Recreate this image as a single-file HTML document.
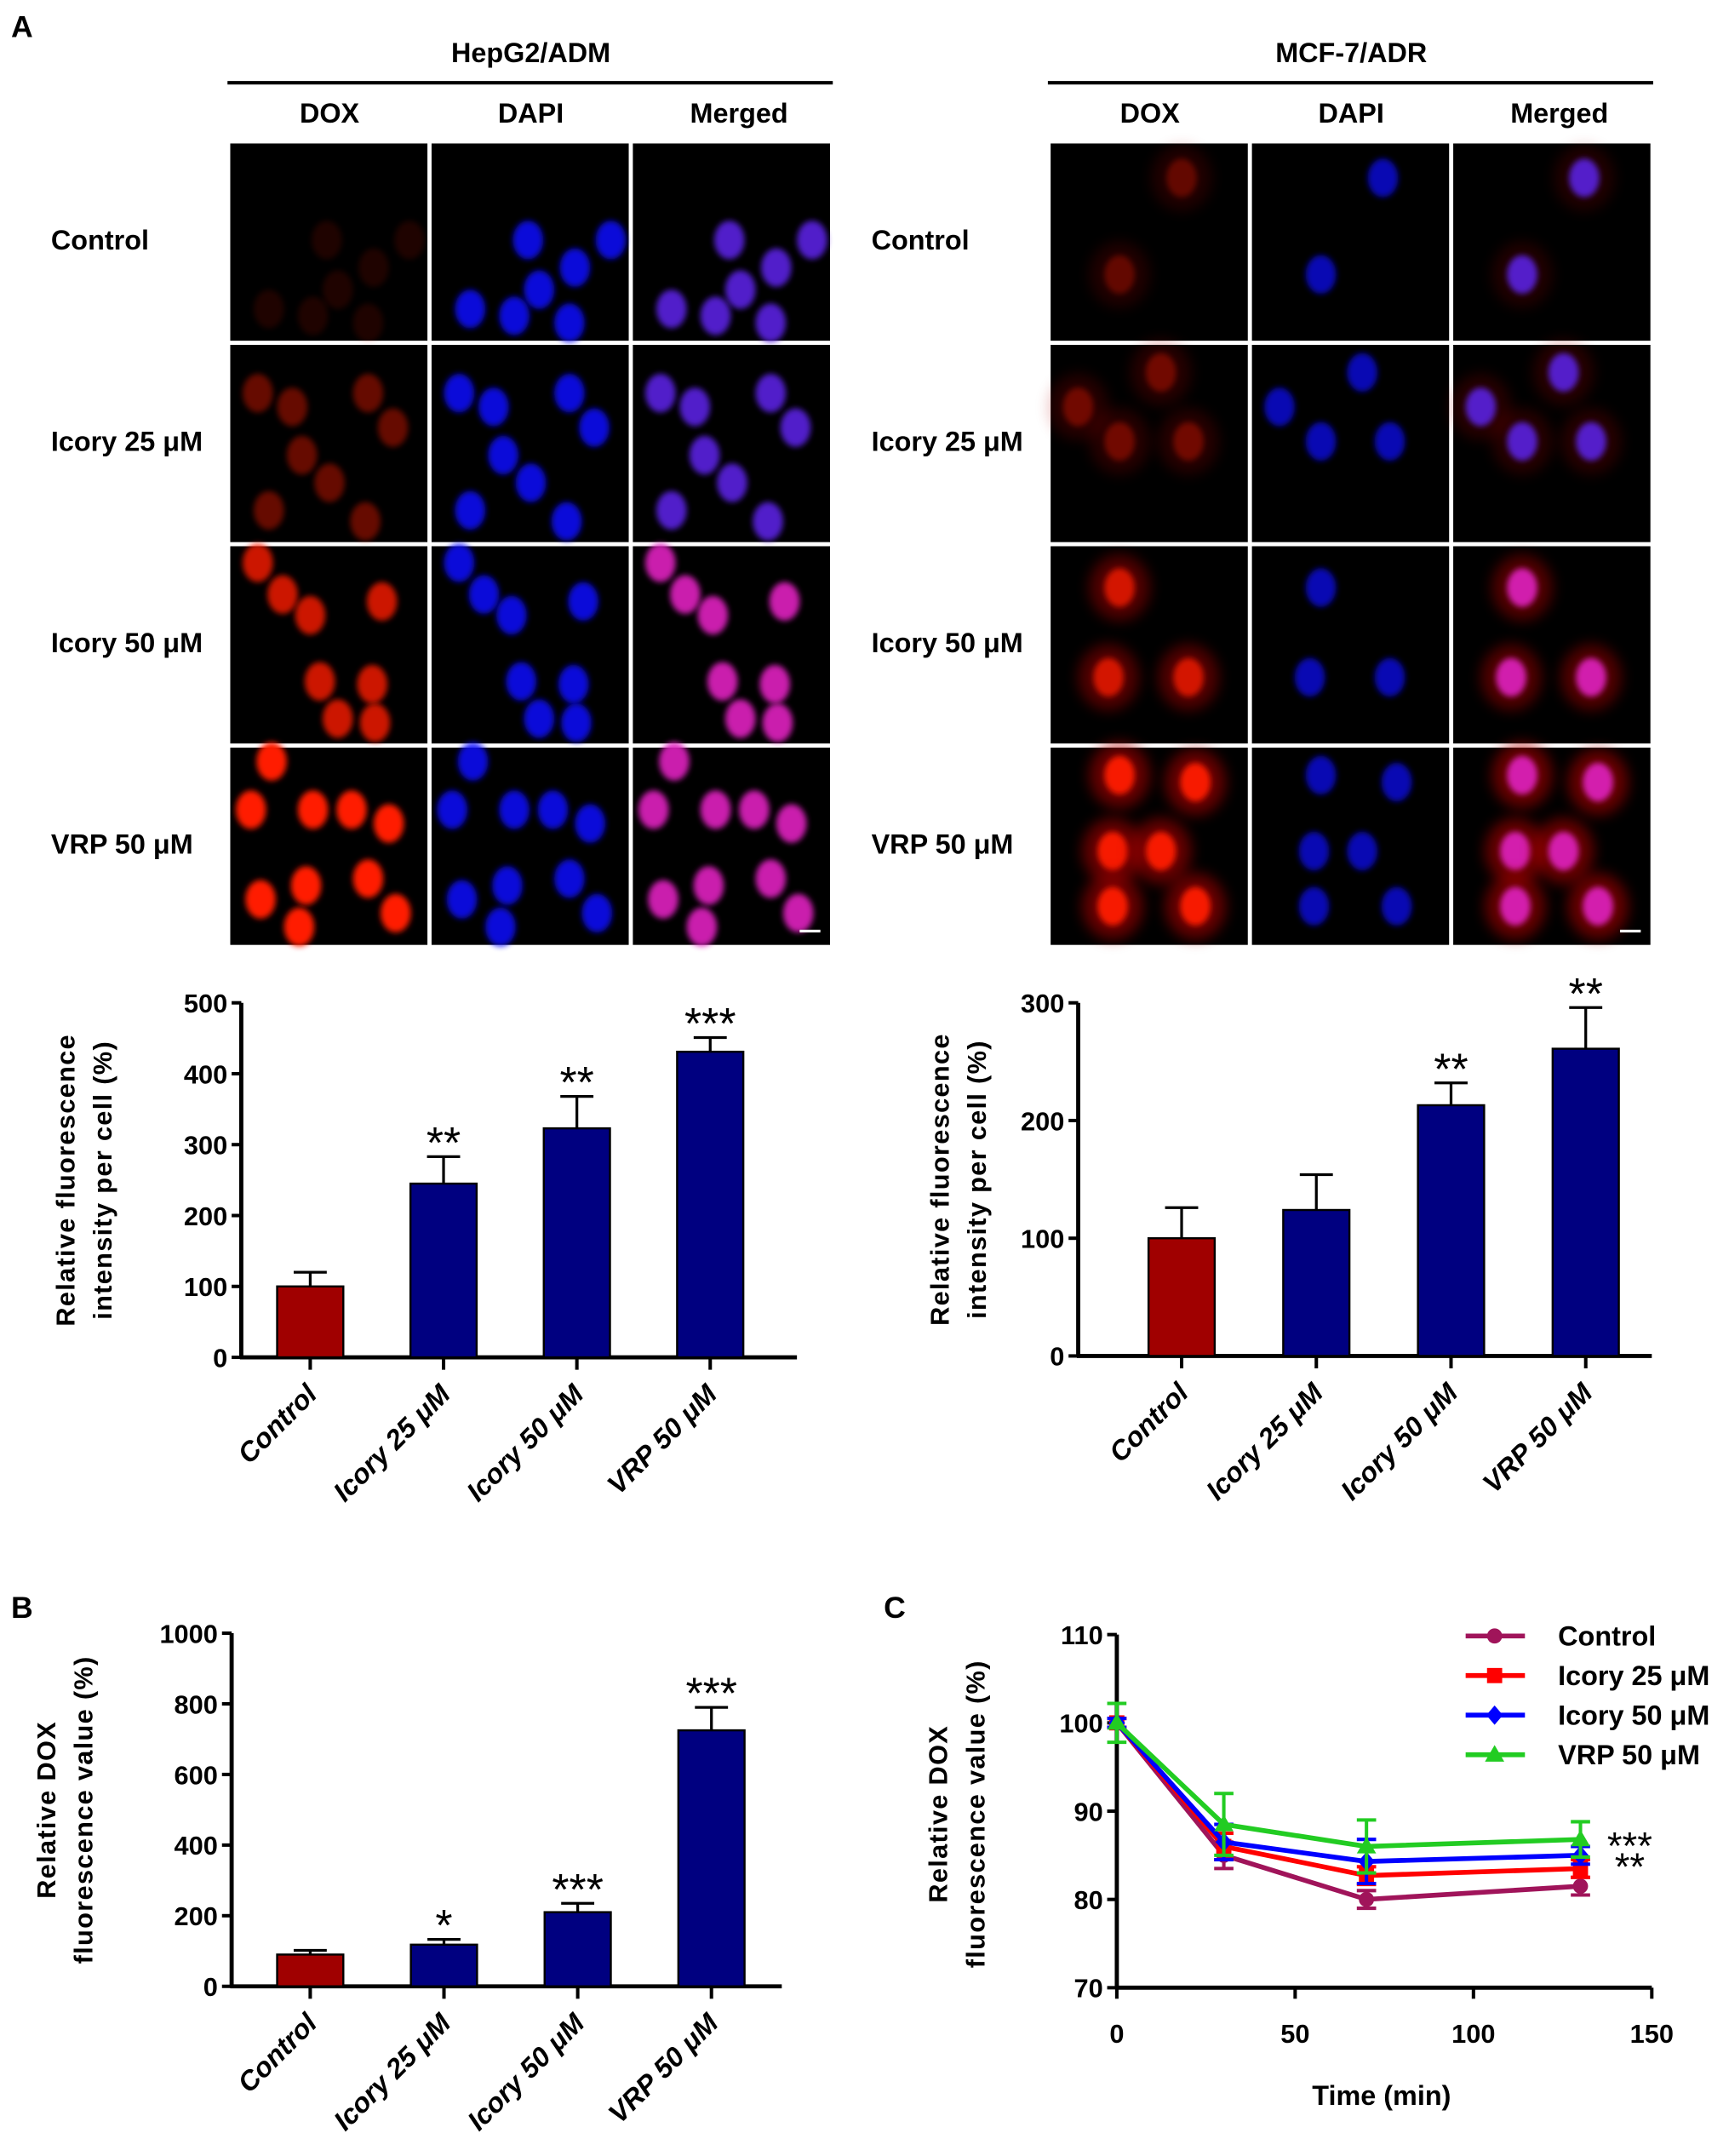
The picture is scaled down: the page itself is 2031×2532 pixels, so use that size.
<!DOCTYPE html>
<html><head><meta charset="utf-8">
<style>
html,body{margin:0;padding:0;background:#fff;}
svg{display:block;font-family:"Liberation Sans",Arial,sans-serif;font-weight:bold;}
</style></head>
<body>
<svg id="fig" width="2031" height="2532" viewBox="0 0 1254 1563" preserveAspectRatio="none" xmlns="http://www.w3.org/2000/svg">
<defs>
<filter id="blur" x="-20%" y="-20%" width="140%" height="140%"><feGaussianBlur stdDeviation="2.2"/></filter>
<filter id="blur2" x="-30%" y="-30%" width="160%" height="160%"><feGaussianBlur stdDeviation="5"/></filter>
</defs>
<rect width="1254" height="1563" fill="#fff"/>
<g id="micro"></g>
<g id="c1"></g>
<g id="c2"></g>
<g id="c3"></g>
<g id="c4"></g>
</svg>
<script>
// ---------- chart data ----------
const barCats = ["Control","Icory 25 μM","Icory 50 μM","VRP 50 μM"];
const hepVals = [100,245,323,431];
const hepErrs = [20,38,45,20];
const hepStars = ["","**","**","***"];
const hepTicks = [0,100,200,300,400,500];
const mcfVals = [100,124,213,261];
const mcfErrs = [26,30,19,35];
const mcfStars = ["","","**","**"];
const mcfTicks = [0,100,200,300];
const bVals = [90,118,210,725];
const bErrs = [12,15,25,65];
const bStars = ["","*","***","***"];
const bTicks = [0,200,400,600,800,1000];
const timePts = [0,30,70,130];
const cSeriesNames = ["Control","Icory 25 μM","Icory 50 μM","VRP 50 μM"];
const cControl = [100,85,80,81.5];
const cIcory25 = [100,86,82.7,83.5];
const cIcory50 = [100,86.5,84.3,85];
const cVrp = [100,88.5,86,86.8];
const cControlErr = [0.5,1.5,1,1];
const cIcory25Err = [0.5,1.5,1,1];
const cIcory50Err = [0.5,2,2.5,1];
const cVrpErr = [2.2,3.5,3,2];
const cXTicks = [0,50,100,150];
const cYTicks = [70,80,90,100,110];

const NS="http://www.w3.org/2000/svg";
function el(parent,tag,attrs,text){const e=document.createElementNS(NS,tag);for(const k in attrs)e.setAttribute(k,attrs[k]);if(text!==undefined)e.textContent=text;parent.appendChild(e);return e;}
const fig=document.getElementById('fig');

let t;
t=el(fig,'text',{x:8,y:27,'font-size':22},'A');


t=el(fig,'text',{x:8,y:1173,'font-size':22},'B');


t=el(fig,'text',{x:641,y:1173,'font-size':22},'C');



const micro=document.getElementById('micro');
const groups=[{name:"HepG2/ADM",x0:167,lab:37},{name:"MCF-7/ADR",x0:762,lab:632}];
const rowsY=[104,250,396,542];
const rowLabels=["Control","Icory 25 μM","Icory 50 μM","VRP 50 μM"];
const nuc=[
 [[[70,70],[28,120],[78,106],[104,90],[130,70],[60,125],[100,130]],
  [[20,35],[45,45],[52,80],[100,35],[118,60],[72,100],[28,120],[98,128]],
  [[20,12],[38,35],[58,50],[65,98],[110,40],[103,100],[105,128],[78,125]],
  [[30,10],[15,45],[60,45],[88,45],[115,55],[22,110],[55,100],[100,95],[120,120],[50,130]]],
 [[[95,25],[50,95]],
  [[80,20],[20,45],[50,70],[100,70]],
  [[50,30],[42,95],[100,95]],
  [[50,20],[105,25],[45,75],[80,75],[45,115],[105,115]]]
];
const redInt=[[0.12,0.4,0.8,1],[0.3,0.35,0.75,0.95]];
groups.forEach((g,gi)=>{
  t=el(micro,'text',{x:g.x0+218,y:45,'font-size':20,'text-anchor':'middle'},g.name);
  
  
  el(micro,'line',{x1:g.x0-2,x2:g.x0+437,y1:60,y2:60,stroke:'#000','stroke-width':2.5});
  ["DOX","DAPI","Merged"].forEach((c,ci)=>{
    t=el(micro,'text',{x:g.x0+72+ci*146+(ci==2?5:0),y:89,'font-size':20,'text-anchor':'middle'},c);
    
    
  });
  rowsY.forEach((ry,ri)=>{
    t=el(micro,'text',{x:g.lab,y:ry+77,'font-size':20},rowLabels[ri]);
    
    
    for(let ci=0;ci<3;ci++){
      const px=g.x0+ci*146;
      el(micro,'rect',{x:px,y:ry,width:143,height:143,fill:'#000'});
      const cg=el(micro,'g',{});
      const ri_=redInt[gi][ri];
      nuc[gi][ri].forEach(p=>{
        const cx=px+p[0],cy=ry+p[1];
        if(cx<px+4||cx>px+139||cy<ry+4||cy>ry+139)return;
        if(ci!==1 && gi===1){el(cg,'ellipse',{cx:cx,cy:cy,rx:22,ry:24,fill:'#b00000',opacity:ri_*0.6,filter:'url(#blur2)'});}
        if(ci===0){el(cg,'ellipse',{cx:cx,cy:cy,rx:11,ry:14,fill:'#ff1a00',opacity:ri_,filter:'url(#blur)'});}
        else if(ci===1){el(cg,'ellipse',{cx:cx,cy:cy,rx:11,ry:14,fill:'#1010ff',opacity:gi==0?0.85:0.7,filter:'url(#blur)'});}
        else{el(cg,'ellipse',{cx:cx,cy:cy,rx:11,ry:14,fill:ri_>0.7?'#e020c0':'#5a20e0',opacity:0.9,filter:'url(#blur)'});}
      });
    }
  });
  el(micro,'rect',{x:g.x0+413,y:674,width:15,height:2,fill:'#fff'});
});

function barChart(gid,o,vals,errs,stars,ticks,titleLines){
  const g=document.getElementById(gid);
  const ys=v=>o.y0-(v-ticks[0])/(ticks[ticks.length-1]-ticks[0])*(o.y0-o.y1);
  el(g,'line',{x1:o.ax,x2:o.ax,y1:o.y1,y2:o.y0+1,stroke:'#000','stroke-width':3});
  el(g,'line',{x1:o.ax-1,x2:o.xEnd,y1:o.y0,y2:o.y0,stroke:'#000','stroke-width':3});
  ticks.forEach(tv=>{
    el(g,'line',{x1:o.ax-7,x2:o.ax,y1:ys(tv),y2:ys(tv),stroke:'#000','stroke-width':2.5});
    const tt=el(g,'text',{x:o.ax-10,y:ys(tv)+7,'font-size':19,'text-anchor':'end'},String(tv));
    
    
  });
  vals.forEach((v,i)=>{
    const cx=o.c0+i*o.step;
    const top=ys(v),etop=ys(v+errs[i]);
    el(g,'line',{x1:cx,x2:cx,y1:top,y2:etop,stroke:'#000','stroke-width':2});
    el(g,'line',{x1:cx-12,x2:cx+12,y1:etop,y2:etop,stroke:'#000','stroke-width':2});
    const b=el(g,'rect',{x:cx-o.bw/2,y:top,width:o.bw,height:o.y0-top,fill:i==0?'#a00000':'#000080',stroke:'#000','stroke-width':1.5});
    
    
    el(g,'line',{x1:cx,x2:cx,y1:o.y0,y2:o.y0+9,stroke:'#000','stroke-width':2.5});
    if(stars[i]){
      const s=el(g,'text',{x:cx,y:etop+1,'font-size':32,'font-weight':'normal','text-anchor':'middle'},stars[i]);
      
      
    }
    const lx=cx+6,ly=o.y0+28;
    const l=el(g,'text',{x:lx,y:ly,'font-size':20,'font-style':'italic','text-anchor':'end',transform:`rotate(-45 ${lx} ${ly})`},barCats[i]);
    
    
  });
  const my=(o.y0+o.y1)/2+o.tOff;
  titleLines.forEach((tl,k)=>{
    const x=o.tx+k*27;
    const tt=el(g,'text',{x:x,y:my,'font-size':19,'text-anchor':'middle','letter-spacing':'0.8',transform:`rotate(-90 ${x} ${my})`},tl);
    
    
  });
}
barChart('c1',{ax:175,y0:984,y1:727,xEnd:578,c0:225,step:96.7,bw:48,tx:54,tOff:0},hepVals,hepErrs,hepStars,hepTicks,["Relative fluorescence","intensity per cell (%)"]);
barChart('c2',{ax:782,y0:983,y1:727,xEnd:1198,c0:857,step:97.7,bw:48,tx:688,tOff:0},mcfVals,mcfErrs,mcfStars,mcfTicks,["Relative fluorescence","intensity per cell (%)"]);
barChart('c3',{ax:168,y0:1440,y1:1184,xEnd:567,c0:225,step:97,bw:48,tx:40,tOff:0},bVals,bErrs,bStars,bTicks,["Relative DOX","fluorescence value (%)"]);

(function(){
  const g=document.getElementById('c4');
  const X0=810,X1=1198,Y0=1441,Y1=1185;
  const xs=v=>X0+(v-cXTicks[0])/(cXTicks[cXTicks.length-1]-cXTicks[0])*(X1-X0);
  const ys=v=>Y0-(v-cYTicks[0])/(cYTicks[cYTicks.length-1]-cYTicks[0])*(Y0-Y1);
  el(g,'line',{x1:X0,x2:X0,y1:Y1,y2:Y0+1,stroke:'#000','stroke-width':3});
  el(g,'line',{x1:X0-1,x2:X1,y1:Y0,y2:Y0,stroke:'#000','stroke-width':3});
  cYTicks.forEach(v=>{
    el(g,'line',{x1:X0-7,x2:X0,y1:ys(v),y2:ys(v),stroke:'#000','stroke-width':2.5});
    const tt=el(g,'text',{x:X0-10,y:ys(v)+7,'font-size':19,'text-anchor':'end'},String(v));
    
    
  });
  cXTicks.forEach(v=>{
    el(g,'line',{x1:xs(v),x2:xs(v),y1:Y0,y2:Y0+8,stroke:'#000','stroke-width':2.5});
    const tt=el(g,'text',{x:xs(v),y:Y0+40,'font-size':19,'text-anchor':'middle'},String(v));
    
    
  });
  let tt=el(g,'text',{x:1002,y:1526,'font-size':20,'text-anchor':'middle'},'Time (min)');
  
  
  const my=1315;
  ["Relative DOX","fluorescence value (%)"].forEach((tl,k)=>{
    const x=687+k*27;
    const a=el(g,'text',{x:x,y:my,'font-size':19,'text-anchor':'middle','letter-spacing':'0.8',transform:`rotate(-90 ${x} ${my})`},tl);
    
    
  });
  const series=[[cControl,cControlErr,'#a0145a','circle'],[cIcory25,cIcory25Err,'#ff0000','square'],[cIcory50,cIcory50Err,'#0000ff','diamond'],[cVrp,cVrpErr,'#22cc22','triangle']];
  function marker(p,x,y,shape,col){
    if(shape=='circle')return el(p,'circle',{cx:x,cy:y,r:5.5,fill:col});
    if(shape=='square')return el(p,'rect',{x:x-5.5,y:y-5.5,width:11,height:11,fill:col});
    if(shape=='diamond')return el(p,'polygon',{points:`${x},${y-7} ${x+6},${y} ${x},${y+7} ${x-6},${y}`,fill:col});
    return el(p,'polygon',{points:`${x},${y-7} ${x+7},${y+5} ${x-7},${y+5}`,fill:col});
  }
  series.forEach((s,si)=>{
    const sg=el(g,'g',{});
    
    
    s[0].forEach((v,i)=>{
      const x=xs(timePts[i]);
      el(sg,'line',{x1:x,x2:x,y1:ys(v-s[1][i]),y2:ys(v+s[1][i]),stroke:s[2],'stroke-width':2.5});
      [v-s[1][i],v+s[1][i]].forEach(e=>el(sg,'line',{x1:x-7,x2:x+7,y1:ys(e),y2:ys(e),stroke:s[2],'stroke-width':2.5}));
    });
    el(sg,'polyline',{points:s[0].map((v,i)=>xs(timePts[i])+','+ys(v)).join(' '),fill:'none',stroke:s[2],'stroke-width':3.5});
    s[0].forEach((v,i)=>marker(sg,xs(timePts[i]),ys(v),s[3],s[2]));
    const ly=1186+si*28.7;
    const lg=el(g,'g',{});
    
    
    el(lg,'line',{x1:1063,x2:1106,y1:ly,y2:ly,stroke:s[2],'stroke-width':3.5});
    marker(lg,1084,ly,s[3],s[2]);
    el(lg,'text',{x:1130,y:ly+7,'font-size':20},cSeriesNames[si]);
  });
  tt=el(g,'text',{x:1182,y:1348,'font-size':28,'font-weight':'normal','text-anchor':'middle'},'***');
  
  
  tt=el(g,'text',{x:1182,y:1363,'font-size':28,'font-weight':'normal','text-anchor':'middle'},'**');
  
  
})();
</script>
</body></html>
